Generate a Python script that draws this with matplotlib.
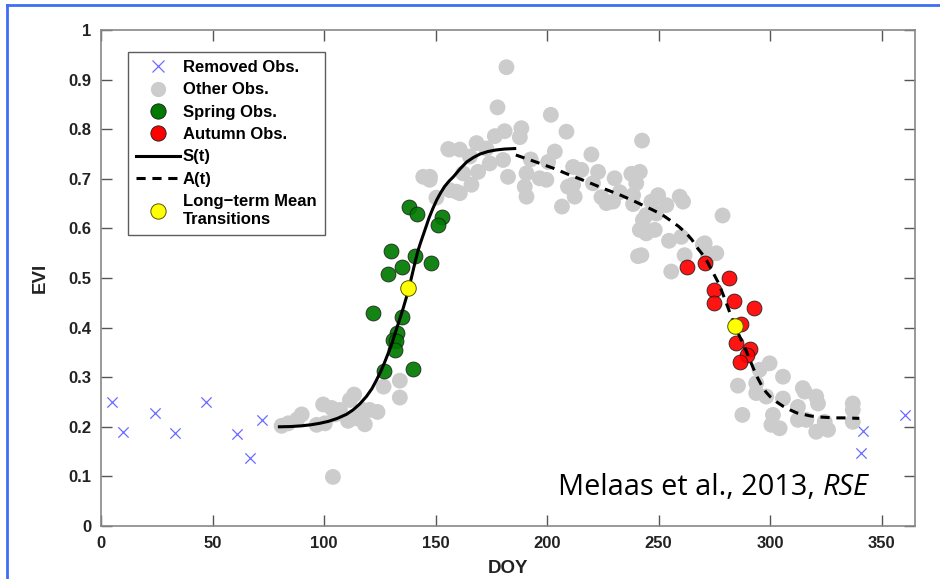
import matplotlib
matplotlib.use("Agg")
import matplotlib.pyplot as plt
from matplotlib.lines import Line2D

# ---- data -------------------------------------------------------------
removed_doy = [5, 10, 24, 33, 47, 61, 67, 72, 341.6, 340.6, 360.3]
removed_evi = [0.249, 0.190, 0.228, 0.188, 0.250, 0.185, 0.137, 0.213, 0.191, 0.147, 0.224]

other_doy = [81, 84, 88, 90, 96.7, 99.6, 100.4, 103.4, 104, 105, 107.1, 110.8, 111.6, 113.5,
             114.6, 117.5, 118.3, 120.5, 124, 126.7, 134, 134,
             144.5, 147.5, 147.4, 150.4, 155.7, 156.1, 156.4, 160.9, 160.9, 162.4, 159.4, 165.4,
             166.1, 168.4, 169.1, 172.8, 174.3, 176.6, 177.8, 180.3, 181, 181.8, 182.5, 187.8,
             188.5, 190, 190.8, 190.8, 192.7, 196.7, 199.7, 200.5, 201.7, 203.5, 206.7, 208.7,
             209.4, 211.7, 211.7, 212.4, 215.4, 219.9, 220.6, 222.9, 224.4, 226.6, 229.6, 230.3,
             232.6, 237.8, 238.6, 238.6, 240, 241.6, 242.6, 243, 244.5, 246.8, 249, 249.8,
             253.5, 259.5, 261, 241.6, 244.5, 248.3, 254.7, 260.2, 240.8, 242.3, 255.7, 261.7,
             269.9, 270.7, 272.2, 275.9, 278.7,
             285.6, 287.6, 293.8, 293.8, 295.3, 298.3, 299.8, 301.3, 300.6, 304.3, 305.8, 305.8,
             312.5, 312.5, 314.7, 315.5, 316.3, 320.7, 321.5, 320.7, 324.5, 326, 337.1, 337.1,
             337.1]
other_evi = [0.202, 0.207, 0.215, 0.225, 0.204, 0.245, 0.207, 0.238, 0.099, 0.225, 0.234, 0.212,
             0.254, 0.265, 0.217, 0.234, 0.205, 0.234, 0.230, 0.281, 0.293, 0.259,
             0.704, 0.704, 0.698, 0.662, 0.760, 0.759, 0.677, 0.759, 0.671, 0.711, 0.674, 0.745,
             0.688, 0.772, 0.714, 0.761, 0.731, 0.786, 0.844, 0.738, 0.796, 0.925, 0.704, 0.784,
             0.802, 0.684, 0.711, 0.664, 0.739, 0.701, 0.698, 0.734, 0.829, 0.755, 0.644, 0.795,
             0.684, 0.724, 0.688, 0.664, 0.718, 0.749, 0.691, 0.714, 0.663, 0.651, 0.654, 0.701,
             0.673, 0.710, 0.667, 0.649, 0.691, 0.714, 0.777, 0.617, 0.627, 0.654, 0.630, 0.667,
             0.647, 0.664, 0.654, 0.597, 0.590, 0.597, 0.575, 0.583, 0.544, 0.546, 0.513, 0.546,
             0.567, 0.570, 0.543, 0.550, 0.626,
             0.283, 0.224, 0.288, 0.268, 0.315, 0.261, 0.328, 0.224, 0.204, 0.197, 0.301, 0.257,
             0.240, 0.214, 0.278, 0.271, 0.214, 0.261, 0.247, 0.190, 0.210, 0.194, 0.247, 0.234,
             0.210]

spring_doy = [138.0, 141.9, 153.0, 150.9, 130.0, 140.9, 147.9, 135.0, 128.8, 122.0, 134.9,
              132.8, 131.0, 132.2, 131.9, 126.8, 140.0]
spring_evi = [0.644, 0.630, 0.622, 0.607, 0.554, 0.544, 0.530, 0.523, 0.508, 0.429, 0.422,
              0.390, 0.374, 0.372, 0.355, 0.3125, 0.3165]

autumn_doy = [262.8, 270.8, 281.6, 274.7, 274.7, 283.8, 292.6, 287.1, 284.7, 290.8, 289.6, 286.7]
autumn_evi = [0.5215, 0.5295, 0.500, 0.476, 0.450, 0.454, 0.439, 0.407, 0.3696, 0.356, 0.345, 0.331]

# spring model S(t)
s_doy = [80, 85, 90, 94, 98, 102, 106, 110, 113, 116, 119, 121.5, 123.5, 125.5, 127, 128.5,
         130, 131, 132, 133.8, 135.5, 136.8, 138, 139, 140, 141, 142, 143.2, 144.5, 145.8, 147,
         148.7, 150.5, 152.2, 154, 156, 158, 161, 164, 167, 170, 173.5, 177, 181, 185.5]
s_evi = [0.200, 0.2005, 0.202, 0.204, 0.207, 0.211, 0.217, 0.225, 0.234, 0.246, 0.261, 0.277,
         0.294, 0.312, 0.328, 0.345, 0.362, 0.376, 0.390, 0.415, 0.439, 0.459, 0.479, 0.497,
         0.516, 0.535, 0.553, 0.570, 0.587, 0.604, 0.620, 0.639, 0.657, 0.671, 0.684, 0.695,
         0.704, 0.720, 0.734, 0.743, 0.750, 0.755, 0.758, 0.760, 0.761]

# autumn model A(t)
a_doy = [186, 195, 203, 210, 218, 225, 233, 240, 247.5, 251.5, 255, 259, 262.5, 265, 267,
         269.3, 271.5, 274.3, 277, 279, 281, 283, 285, 286.8, 288.5, 290.5, 292.5, 294.5,
         296.5, 298.2, 300, 303, 306, 309, 312, 315, 318, 321.5, 325, 329, 333, 340]
a_evi = [0.748, 0.734, 0.721, 0.708, 0.694, 0.681, 0.667, 0.653, 0.637, 0.628, 0.617, 0.604,
         0.590, 0.577, 0.563, 0.550, 0.536, 0.512, 0.489, 0.466, 0.442, 0.418, 0.395, 0.378,
         0.362, 0.340, 0.318, 0.298, 0.281, 0.270, 0.261, 0.250, 0.241, 0.234, 0.228, 0.225,
         0.222, 0.220, 0.219, 0.218, 0.218, 0.217]

mean_doy = [137.7, 284.4]
mean_evi = [0.479, 0.403]

x_ticks = [0, 50, 100, 150, 200, 250, 300, 350]
y_ticks = [0, 0.1, 0.2, 0.3, 0.4, 0.5, 0.6, 0.7, 0.8, 0.9, 1]
y_tick_labels = ["0", "0.1", "0.2", "0.3", "0.4", "0.5", "0.6", "0.7", "0.8", "0.9", "1"]

# ---- figure -----------------------------------------------------------
plt.rcParams['font.family'] = ['Liberation Sans', 'DejaVu Sans']
W, H = 940, 579
fig = plt.figure(figsize=(W / 100, H / 100), dpi=100)

# slide-style blue frame (left and top edges)
frame_col = '#3f6ef5'
fig.add_artist(Line2D([7 / W, 7 / W], [0, 1 - 5 / H], transform=fig.transFigure,
                      color=frame_col, lw=2))
fig.add_artist(Line2D([7 / W, 1], [1 - 5 / H, 1 - 5 / H], transform=fig.transFigure,
                      color=frame_col, lw=2))

ax = fig.add_axes([101 / W, 53 / H, 814 / W, 496 / H])

dash = (0, (3, 2.2))
ax.scatter(removed_doy, removed_evi, marker='x', s=55, color='#6b6bff', linewidths=0.9, zorder=2)
ax.scatter(other_doy, other_evi, s=130, color='#cccccc', edgecolors='none', zorder=2)
ax.scatter(spring_doy, spring_evi, s=115, color='#007a00', edgecolors='#1a1a1a',
           linewidths=0.6, alpha=0.92, zorder=3)
ax.scatter(autumn_doy, autumn_evi, s=115, color='#ff0000', edgecolors='#1a1a1a',
           linewidths=0.6, alpha=0.92, zorder=3)
ax.plot(s_doy, s_evi, color='black', lw=2.2, zorder=4, solid_joinstyle='round')
ax.plot(a_doy, a_evi, color='black', lw=2.2, ls=dash, zorder=4)
ax.scatter(mean_doy, mean_evi, s=125, color='#ffff00', edgecolors='#555500',
           linewidths=0.7, zorder=5)

ax.set_xlim(0, 365)
ax.set_ylim(0, 1)
ax.set_xticks(x_ticks)
ax.set_yticks(y_ticks)
ax.set_yticklabels(y_tick_labels)
ax.tick_params(direction='in', length=8, width=1, color='#555555', top=True, right=True,
               labelsize=12, pad=7)
for lab in ax.get_xticklabels() + ax.get_yticklabels():
    lab.set_fontweight('bold')
    lab.set_color('#222222')
for sp in ax.spines.values():
    sp.set_color('#888888')
    sp.set_linewidth(1.2)

ax.set_xlabel('DOY', fontsize=13.5, fontweight='bold', labelpad=7, color='#222222')
ax.set_ylabel('EVI', fontsize=13.5, fontweight='bold', labelpad=14, color='#222222')

handles = [
    Line2D([], [], ls='none', marker='x', color='#6b6bff', markersize=8, mew=0.9),
    Line2D([], [], ls='none', marker='o', color='#cccccc', markersize=11, mec='none'),
    Line2D([], [], ls='none', marker='o', color='#007a00', markersize=11, mec='#1a1a1a', mew=0.6),
    Line2D([], [], ls='none', marker='o', color='#ff0000', markersize=11, mec='#1a1a1a', mew=0.6),
    Line2D([], [], color='black', lw=2.2),
    Line2D([], [], color='black', lw=2.2, ls=dash),
    Line2D([], [], ls='none', marker='o', color='#ffff00', markersize=11, mec='#555500', mew=0.7),
]
labels = ['Removed Obs.', 'Other Obs.', 'Spring Obs.', 'Autumn Obs.', 'S(t)', 'A(t)',
          'Long\u2212term Mean\nTransitions']
leg = ax.legend(handles, labels, loc='upper left', bbox_to_anchor=(0.033, 0.956),
                borderaxespad=0, frameon=True, fancybox=False, shadow=False,
                prop={'weight': 'bold', 'size': 12}, handlelength=2.6, handletextpad=0.2,
                labelspacing=0.44, borderpad=0.5)
leg.get_frame().set_edgecolor('#333333')
leg.get_frame().set_linewidth(1.0)

# citation, upright part followed by the italic journal name
cite_x, cite_base, cite_w = 558, 495, 309
fs = 20
t1 = fig.text(cite_x / W, 1 - cite_base / H, 'Melaas et al., 2013, ', fontsize=fs,
              family='Open Sans', va='baseline', ha='left')
t2 = fig.text(0, 1 - cite_base / H, 'RSE', fontsize=fs, family='Open Sans',
              style='italic', va='baseline', ha='left')
r = fig.canvas.get_renderer()
w_tot = t1.get_window_extent(r).width + t2.get_window_extent(r).width
fs = fs * cite_w / w_tot
t1.set_fontsize(fs)
t2.set_fontsize(fs)
t2.set_x((cite_x + t1.get_window_extent(r).width) / W)

fig.savefig('out.png', dpi=100)
